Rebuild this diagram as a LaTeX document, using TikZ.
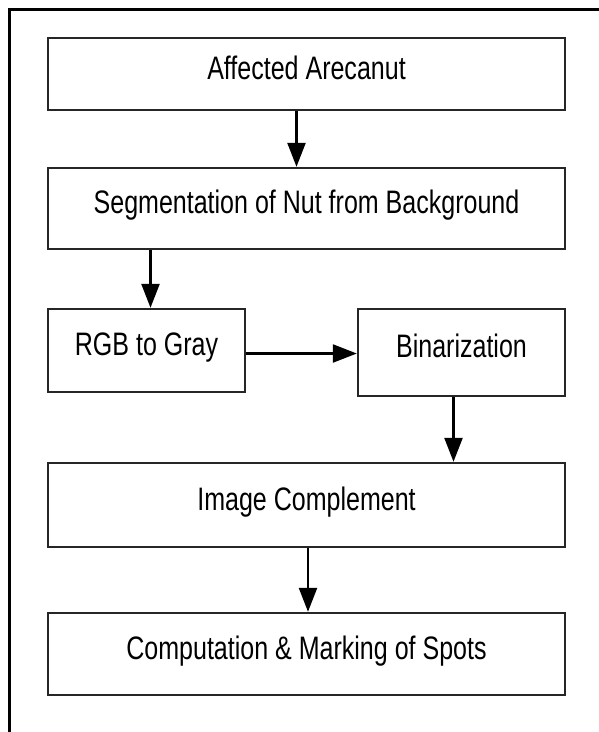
\documentclass[tikz,border=0pt]{standalone}
\usepackage{fontspec}
\setmainfont[FakeStretch=0.77]{Liberation Sans}
\usepackage{tikz}
\usetikzlibrary{arrows.meta}

\begin{document}
\begin{tikzpicture}[x=1pt,y=1pt,
  stepbox/.style={draw=black!85, line width=2.4pt, inner sep=0pt, text height=24pt, text depth=14pt,
    font=\fontsize{32.5pt}{38pt}\selectfont},
  flow/.style={line width=2.4pt, -{Triangle[length=24pt,width=18pt]}}]
\useasboundingbox (0,0) rectangle (599,-732);
\draw[line width=2.5pt] (599,-9.5) -- (9.5,-9.5) -- (9.5,-732);
\node[stepbox, minimum width=517, minimum height=72] (arecanut) at (306.5,-74) {Affected Arecanut};
\node[stepbox, minimum width=517, minimum height=81] (segment) at (306.5,-208.5) {Segmentation of Nut from Background};
\node[stepbox, minimum width=197, minimum height=83] (rgb) at (146.5,-350.5) {RGB to Gray};
\node[stepbox, minimum width=207, minimum height=87] (binar) at (461.5,-352.5) {Binarization};
\node[stepbox, minimum width=517, minimum height=84] (complement) at (306.5,-505) {Image Complement};
\node[stepbox, minimum width=517, minimum height=82] (spots) at (306.5,-654) {Computation \& Marking of Spots};
\draw[flow] ([xshift=-10pt]arecanut.south) -- ([xshift=-10pt]arecanut.south |- segment.north);
\draw[flow] ([xshift=4pt]rgb.north |- segment.south) -- ([xshift=4pt]rgb.north);
\draw[flow] ([yshift=-3pt]rgb.east) -- ([yshift=-3pt]rgb.east -| binar.west);
\draw[flow] ([xshift=-8pt]binar.south) -- ([xshift=-8pt]binar.south |- complement.north);
\draw[flow] ([xshift=1.5pt]complement.south) -- ([xshift=1.5pt]spots.north);
\end{tikzpicture}
\end{document}
